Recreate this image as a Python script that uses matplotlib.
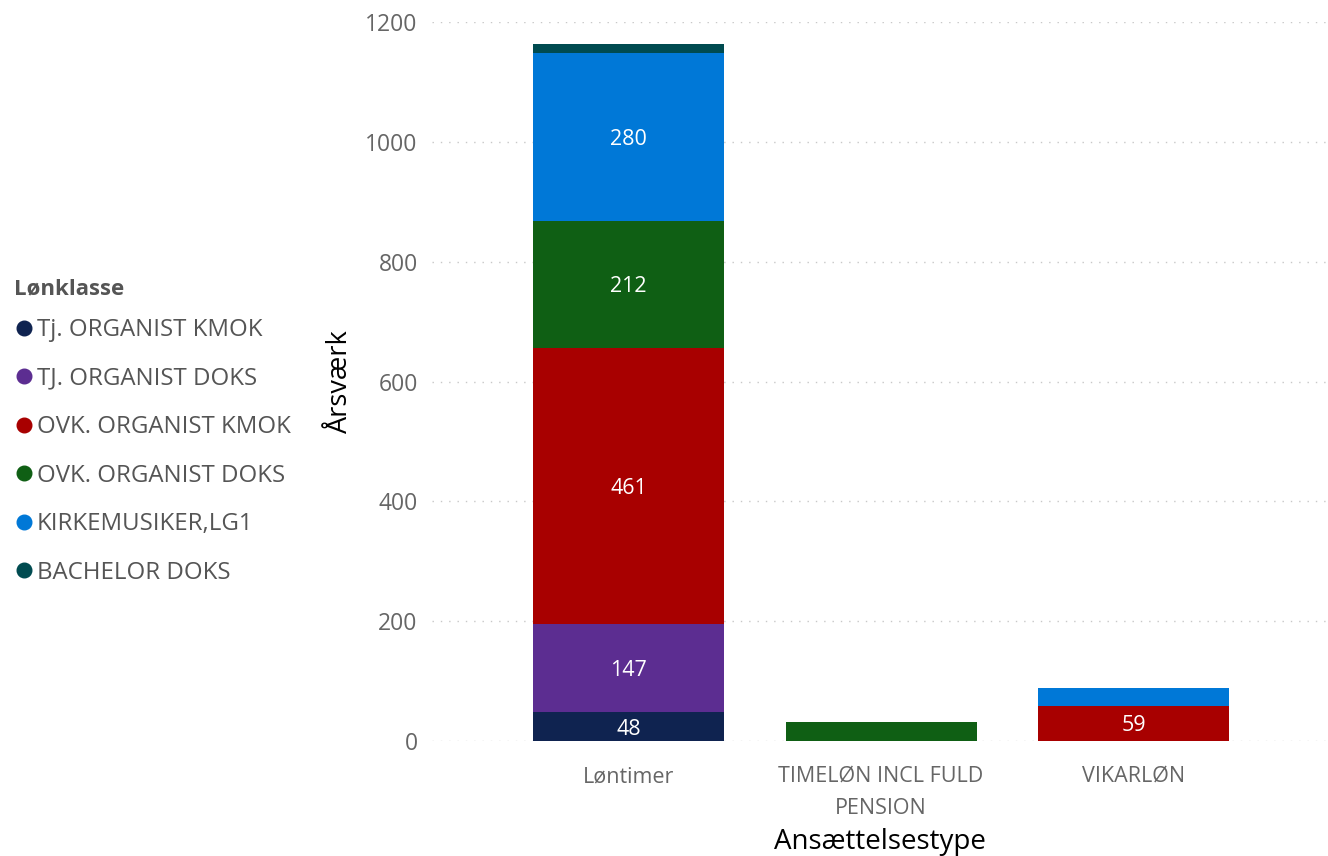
import numpy as np
import matplotlib.pyplot as plt
from matplotlib.lines import Line2D

plt.rcParams['font.family'] = ['Open Sans', 'DejaVu Sans']

# data
types = ["Løntimer", "TIMELØN INCL FULD\nPENSION", "VIKARLØN"]
classes = ["Tj. ORGANIST KMOK", "TJ. ORGANIST DOKS", "OVK. ORGANIST KMOK",
           "OVK. ORGANIST DOKS", "KIRKEMUSIKER,LG1", "BACHELOR DOKS"]
tj_kmok = [48, 0, 0]
tj_doks = [147, 0, 0]
ovk_kmok = [461, 0, 59]
ovk_doks = [212, 32, 0]
kirkemusiker = [280, 0, 29]
bachelor = [16, 0, 0]
series = [tj_kmok, tj_doks, ovk_kmok, ovk_doks, kirkemusiker, bachelor]
colors = ["#0f2350", "#5c2d91", "#a80000", "#0f5f14", "#0078d7", "#004b50"]

fig = plt.figure(figsize=(13.28, 8.56), dpi=100)
ax = fig.add_axes([0.325, 0.1343, 0.675, 0.84])

x = np.arange(len(types))
bottom = np.zeros(len(types))
for vals, col in zip(series, colors):
    vals = np.array(vals, dtype=float)
    ax.bar(x, vals, 0.756, bottom=bottom, color=col, zorder=3)
    for xi, v, b in zip(x, vals, bottom):
        if v > 40:
            ax.text(xi, b + v / 2, f"{int(v)}", ha="center", va="center_baseline",
                    color="white", fontsize=15.5, zorder=4)
    bottom += vals

ax.set_xlim(-0.78, 2.77)
ax.set_ylim(0, 1200)
ax.set_yticks(range(0, 1201, 200))
ax.set_xticks(x)
ax.set_xticklabels(types, fontsize=15.5, color="#666666", linespacing=1.7)
ax.tick_params(axis="y", labelsize=16.5, labelcolor="#666666", length=0, pad=10)
ax.tick_params(axis="x", length=0, pad=18)
for s in ax.spines.values():
    s.set_visible(False)
ax.grid(axis="y", color="#c8c8c8", linestyle=(0, (1, 5)), linewidth=1, zorder=0)
ax.set_ylabel("Årsværk", fontsize=19.5, color="black", labelpad=8)
ax.set_xlabel("Ansættelsestype", fontsize=20, color="black", labelpad=6)

# legend
fig.text(14 / 1328, 1 - 289 / 856, "Lønklasse", fontsize=16, fontweight="bold",
         color="#555555", ha="left", va="center")
handles = [Line2D([], [], marker="o", linestyle="", markersize=10.5, color=c) for c in colors]
leg = fig.legend(handles, classes, loc="upper left", bbox_to_anchor=(0.0105, 0.6285),
                 frameon=False, fontsize=17.3, labelspacing=1.02, handletextpad=0.15,
                 handlelength=0.8, borderaxespad=0, borderpad=0)
plt.setp(leg.get_texts(), color="#555555")

fig.savefig("out.png", dpi=100)
